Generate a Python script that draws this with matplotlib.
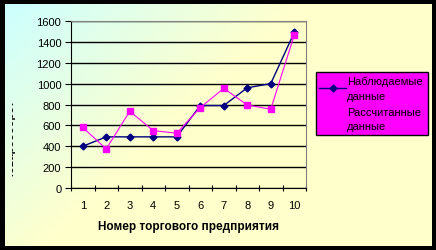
import numpy as np
import matplotlib
matplotlib.use('Agg')
import matplotlib.pyplot as plt
from matplotlib.patches import Rectangle
from matplotlib.lines import Line2D

# data
firms = [1, 2, 3, 4, 5, 6, 7, 8, 9, 10]
observed = [400, 490, 490, 490, 490, 790, 790, 960, 1000, 1490]
computed = [580, 375, 735, 550, 525, 770, 955, 795, 755, 1465]
y_ticks = [0, 200, 400, 600, 800, 1000, 1200, 1400, 1600]
labels = ['Наблюдаемые\nданные', 'Рассчитанные\nданные']

plt.rcParams['font.family'] = ['Liberation Sans', 'DejaVu Sans']

W, H = 436, 251
fig = plt.figure(figsize=(W / 100, H / 100), dpi=100)
fig.patch.set_facecolor('black')

# gradient panel
bg = fig.add_axes([5 / W, 4 / H, 426 / W, 242 / H])
gx, gy = np.meshgrid(np.linspace(0, 1, 200), np.linspace(0, 1, 120))
t = np.clip((gx * 0.9 + gy * 0.55) * 1.6, 0, 1)
c0 = np.array([0.80, 1.0, 1.0])
c1 = np.array([1.0, 1.0, 0.80])
img = c0[None, None, :] * (1 - t[..., None]) + c1[None, None, :] * t[..., None]
bg.imshow(img, aspect='auto', extent=[0, 1, 0, 1])
bg.set_axis_off()

ax = fig.add_axes([71 / W, (H - 189) / H, (306 - 71) / W, (189 - 22) / H])
ax.patch.set_alpha(0)
ax.plot(firms, observed, color='#000080', marker='D', markersize=3.5, linewidth=1, zorder=3)
ax.plot(firms, computed, color='#ff00ff', marker='s', markersize=5, linewidth=0.8, zorder=3)

ax.set_xlim(0.5, 10.5)
ax.set_ylim(0, 1600)
ax.set_yticks(y_ticks)
ax.set_xticks(firms)
ax.set_xticks(np.arange(0.5, 11, 1), minor=True)
ax.tick_params(axis='x', which='major', length=0, labelsize=8, pad=9)
ax.tick_params(axis='x', which='minor', length=4, direction='inout', width=0.8)
ax.tick_params(axis='y', length=4, width=0.8, labelsize=8, pad=3)
ax.grid(axis='y', color='black', linewidth=1)
for s in ['left', 'bottom']:
    ax.spines[s].set_color('black')
for s in ['right', 'top']:
    ax.spines[s].set_color('#808080')
ax.set_xlabel('Номер торгового предприятия', fontsize=8.5, fontweight='bold', labelpad=7)

# clipped y label
yl = fig.text(11 / W, 112 / H, 'Товарооборот', rotation=90, fontsize=8,
              fontweight='bold', ha='center', va='center')
clip = Rectangle((12, 0), 30, H, transform=None)
yl.set_clip_path(clip)

# legend
handles = [Line2D([], [], color='#000080', marker='D', markersize=3.5, linewidth=1),
           Line2D([], [], color='#ff00ff', marker='s', markersize=5, linewidth=0.8)]
leg = fig.legend(handles, labels, loc='upper left', mode='expand',
                 bbox_to_anchor=(316 / W, (H - 139) / H, 112 / W, 66 / H), fontsize=8,
                 frameon=True, fancybox=False, facecolor='#ff00ff',
                 edgecolor='black', framealpha=1, handlelength=2.4,
                 handletextpad=0.1, borderpad=0.3, labelspacing=0.55,
                 borderaxespad=0)
leg.get_frame().set_linewidth(1)
for txt in leg.get_texts():
    txt.set_linespacing(1.6)

fig.savefig('out.png', dpi=100, facecolor='black')
